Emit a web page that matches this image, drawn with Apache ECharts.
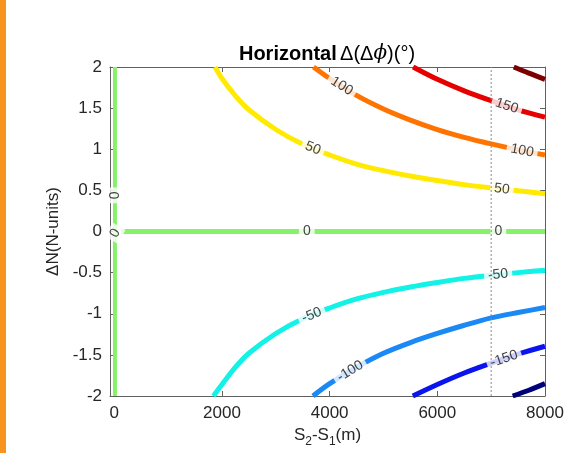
<!DOCTYPE html>
<html>
<head>
<meta charset="utf-8">
<script src="https://cdn.jsdelivr.net/npm/echarts@6/dist/echarts.min.js"></script>
<style>
html,body{margin:0;padding:0;background:#fff;}
#chart{width:568px;height:453px;}
</style>
</head>
<body>
<div id="chart"></div>
<script>
// ---- data ----
const xTicks = [0, 2000, 4000, 6000, 8000];
const yTicks = [-2, -1.5, -1, -0.5, 0, 0.5, 1, 1.5, 2];

const levelNames = ['200', '150', '100', '50', '0', '0', '-50', '-100', '-150', '-200'];
const c200  = [[7420, 2.0], [7700, 1.925], [8000, 1.85]];
const c150  = [[5550, 2.0], [6000, 1.85], [6500, 1.71], [7000, 1.59], [7500, 1.48], [8000, 1.39]];
const c100  = [[3700, 2.0], [4000, 1.86], [4500, 1.655], [5000, 1.49], [5500, 1.355], [6000, 1.24], [6500, 1.145], [7000, 1.065], [7500, 0.993], [8000, 0.93]];
const c50   = [[1870, 2.0], [2000, 1.86], [2250, 1.65], [2500, 1.48], [3000, 1.24], [3500, 1.06], [4000, 0.93], [4500, 0.82], [5000, 0.74], [5500, 0.675], [6000, 0.62], [6500, 0.57], [7000, 0.53], [7500, 0.495], [8000, 0.46]];
const c0h   = [[125, 0], [8000, 0]];
const c0v   = [[12, -2], [12, 2]];
const cm50  = [[1840, -2.0], [2000, -1.86], [2250, -1.65], [2500, -1.48], [3000, -1.24], [3500, -1.06], [4000, -0.93], [4500, -0.82], [5000, -0.74], [5500, -0.675], [6000, -0.62], [6500, -0.57], [7000, -0.533], [7500, -0.5], [8000, -0.47]];
const cm100 = [[3690, -2.0], [4000, -1.85], [4500, -1.65], [5000, -1.48], [5500, -1.35], [6000, -1.24], [6500, -1.14], [7000, -1.05], [7500, -0.985], [8000, -0.925]];
const cm150 = [[5545, -2.0], [6000, -1.86], [6500, -1.72], [7000, -1.6], [7500, -1.49], [8000, -1.395]];
const cm200 = [[7400, -2.0], [7700, -1.93], [8000, -1.85]];
const refLineX = 7000;

// contour label placements: [contour index, x position, text]
const contourLabels = [
  [2, 4225, '100'], [3, 3690, '50'], [1, 7290, '150'], [2, 7575, '100'], [3, 7200, '50'],
  [4, 3575, '0'], [4, 7133, '0'],
  [6, 7130, '-50'], [6, 3668, '-50'], [7, 4380, '-100'], [8, 7240, '-150']
];
const verticalZeroLabels = [[12, 0.44, '0', 90], [14, -0.02, '0', 60]];

// ---- styling ----
const contours = [c200, c150, c100, c50, c0h, c0v, cm50, cm100, cm150, cm200];
const colors = ['#7d0000', '#e60000', '#ff7400', '#ffea00', '#86f26a', '#86f26a', '#12f2e6', '#1a88f5', '#0a14ec', '#00007a'];
const axisColor = '#606060';
const textColor = '#262626';
const font = 'Liberation Sans, Arial, Helvetica, sans-serif';

const chart = echarts.init(document.getElementById('chart'), null, {renderer: 'canvas'});

function interpY(pts, x) {
  for (let i = 0; i < pts.length - 1; i++) {
    const a = pts[i], b = pts[i + 1];
    if (x >= a[0] && x <= b[0]) {
      const t = (x - a[0]) / (b[0] - a[0]);
      return {y: a[1] + t * (b[1] - a[1]), a: a, b: b};
    }
  }
  return {y: pts[pts.length - 1][1], a: pts[pts.length - 2], b: pts[pts.length - 1]};
}

function labelData(withAngles) {
  const out = [];
  contourLabels.forEach(function (l) {
    const r = interpY(contours[l[0]], l[1]);
    let rot = 0;
    if (withAngles) {
      const pa = chart.convertToPixel({gridIndex: 0}, r.a);
      const pb = chart.convertToPixel({gridIndex: 0}, r.b);
      rot = -Math.atan2(pb[1] - pa[1], pb[0] - pa[0]) * 180 / Math.PI;
    }
    out.push({value: [l[1], r.y], name: l[2], label: {rotate: rot}});
  });
  verticalZeroLabels.forEach(function (l) {
    out.push({value: [l[0], l[1]], name: l[2], label: {rotate: l[3]}});
  });
  return out;
}

const series = contours.map(function (pts, i) {
  return {
    type: 'line', data: pts, xAxisIndex: 0, yAxisIndex: 0,
    symbol: 'none', smooth: 0.3,
    lineStyle: {color: colors[i], width: (i === 5 ? 4 : 5), cap: 'butt'},
    silent: true, z: 2, animation: false
  };
});

series.push({
  type: 'scatter', xAxisIndex: 0, yAxisIndex: 0, symbolSize: 0, z: 3, animation: false, silent: true,
  data: labelData(false),
  label: {
    show: true, position: 'inside', formatter: '{b}', color: '#111', fontSize: 14, fontFamily: font,
    backgroundColor: '#fff', padding: [1, 4, 0, 4]
  }
});

series.push({
  type: 'line', xAxisIndex: 0, yAxisIndex: 0, symbol: 'none', z: 4, animation: false, silent: true,
  data: [[refLineX, -2], [refLineX, 2]],
  lineStyle: {color: '#8a8a8a', width: 1, type: [2, 2]}
});

const option = {
  animation: false,
  backgroundColor: '#fff',
  grid: {left: 110, right: 23, top: 67, bottom: 57, containLabel: false},
  graphic: [
    {type: 'rect', shape: {x: 0, y: 0, width: 6, height: 453}, style: {fill: '#f7941d'}},
    {type: 'text', x: 327, y: 54, style: {
      text: '{b|Horizontal} {n|Δ(Δ}{i|ϕ}{n|)(°)}', align: 'center', verticalAlign: 'middle',
      rich: {
        b: {fontWeight: 'bold', fontSize: 20, fontFamily: font, fill: '#000', color: '#000'},
        n: {fontSize: 20, fontFamily: font, fill: '#000', color: '#000'},
        i: {fontSize: 20, fontStyle: 'italic', fontFamily: 'DejaVu Serif, serif', fill: '#000', color: '#000'}
      }
    }}
  ],
  xAxis: [{
    type: 'value', min: -80, max: 8000, position: 'bottom',
    axisLine: {show: true, onZero: false, lineStyle: {color: axisColor, width: 1}},
    axisTick: {show: true, inside: true, length: 5, customValues: xTicks, lineStyle: {color: axisColor}},
    axisLabel: {show: true, customValues: xTicks, color: textColor, fontSize: 17, fontFamily: font, margin: 9,
      formatter: function (v) { return String(v); }},
    splitLine: {show: false},
    name: '{m|S}{s|2}{m|-S}{s|1}{m|(m)}', nameLocation: 'middle', nameGap: 25,
    nameTextStyle: {
      rich: {
        m: {fontSize: 17, fontFamily: font, color: textColor, lineHeight: 24},
        s: {fontSize: 12, fontFamily: font, color: textColor, lineHeight: 10, verticalAlign: 'bottom'}
      }
    }
  }, {
    type: 'value', min: -80, max: 8000, position: 'top',
    axisLine: {show: true, onZero: false, lineStyle: {color: axisColor, width: 1}},
    axisTick: {show: true, inside: true, length: 5, customValues: xTicks, lineStyle: {color: axisColor}},
    axisLabel: {show: false}, splitLine: {show: false}
  }],
  yAxis: [{
    type: 'value', min: -2, max: 2, interval: 0.5, position: 'left',
    axisLine: {show: true, onZero: false, lineStyle: {color: axisColor, width: 1}},
    axisTick: {show: true, inside: true, length: 5, lineStyle: {color: axisColor}},
    axisLabel: {show: true, color: textColor, fontSize: 17, fontFamily: font, margin: 8},
    splitLine: {show: false},
    name: 'ΔN(N-units)', nameLocation: 'middle', nameGap: 46,
    nameTextStyle: {fontSize: 17, fontFamily: font, color: textColor}
  }, {
    type: 'value', min: -2, max: 2, interval: 0.5, position: 'right',
    axisLine: {show: true, onZero: false, lineStyle: {color: axisColor, width: 1}},
    axisTick: {show: true, inside: true, length: 5, lineStyle: {color: axisColor}},
    axisLabel: {show: false}, splitLine: {show: false}
  }],
  series: series
};

chart.setOption(option);
chart.setOption({series: [{}, {}, {}, {}, {}, {}, {}, {}, {}, {}, {data: labelData(true)}]});
</script>
</body>
</html>
